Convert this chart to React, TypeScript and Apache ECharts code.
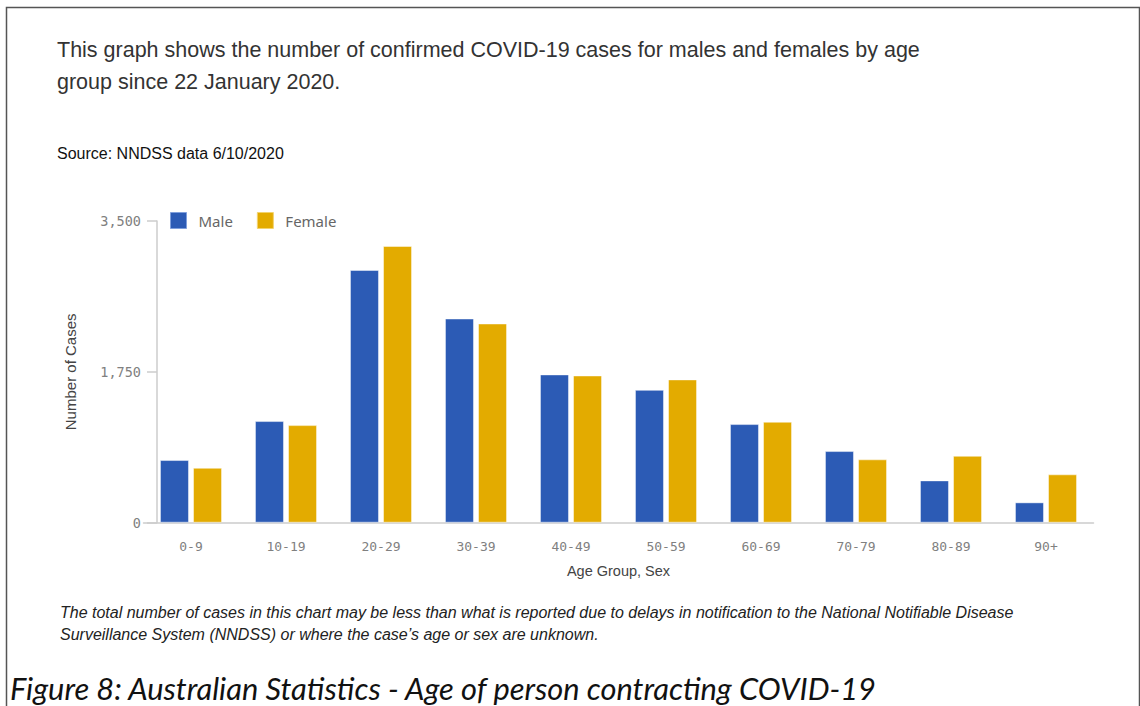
import React, { useEffect, useRef } from "react";
import * as echarts from "echarts";

const categories = ["0-9", "10-19", "20-29", "30-39", "40-49", "50-59", "60-69", "70-79", "80-89", "90+"];
const maleCases = [727, 1179, 2932, 2369, 1720, 1541, 1144, 831, 491, 236];
const femaleCases = [637, 1132, 3210, 2311, 1708, 1662, 1171, 735, 776, 561];
const yTicks = [0, 1750, 3500];

const titleLines = [
  "This graph shows the number of confirmed COVID-19 cases for males and females by age",
  "group since 22 January 2020.",
];
const sourceText = "Source: NNDSS data 6/10/2020";
const noteLines = [
  "The total number of cases in this chart may be less than what is reported due to delays in notification to the National Notifiable Disease",
  "Surveillance System (NNDSS) or where the case\u2019s age or sex are unknown.",
];
const captionText = "Figure 8: Australian Statistics - Age of person contracting COVID-19";

const MALE = "#2c5bb5";
const FEMALE = "#e3ab00";
const SANS = "Liberation Sans, Arial, sans-serif";
const MONO = "DejaVu Sans Mono, monospace";

export default function App() {
  const ref = useRef<HTMLDivElement>(null);
  useEffect(() => {
    if (!ref.current) return;
    const chart = echarts.init(ref.current, null, { renderer: "svg" });
    chart.setOption({
      animation: false,
      backgroundColor: "#ffffff",
      grid: { left: 143.5, right: 46.5, top: 221, bottom: 183.3, containLabel: false },
      legend: {
        left: 170,
        top: 212,
        itemWidth: 16,
        itemHeight: 16,
        itemGap: 24,
        icon: "rect",
        padding: 0,
        textStyle: { color: "#666", fontSize: 15, fontFamily: "Noto Sans, sans-serif", padding: [0, 0, 0, 7] },
        data: [
          { name: "Male", itemStyle: { color: MALE, borderColor: "#7f9fdc", borderWidth: 1 } },
          { name: "Female", itemStyle: { color: FEMALE, borderColor: "#f2d36e", borderWidth: 1 } },
        ],
      },
      xAxis: {
        type: "category",
        data: categories,
        name: "Age Group, Sex",
        nameLocation: "middle",
        nameGap: 41,
        nameTextStyle: { color: "#444", fontSize: 14.5, fontFamily: SANS },
        axisLine: { show: true, lineStyle: { color: "#cccccc", width: 1.5 } },
        axisTick: { show: false },
        axisLabel: { color: "#808080", fontSize: 13, fontFamily: MONO, margin: 17 },
      },
      yAxis: {
        type: "value",
        min: yTicks[0],
        max: yTicks[yTicks.length - 1],
        interval: yTicks[1] - yTicks[0],
        offset: -13.5,
        name: "Number of Cases",
        nameLocation: "middle",
        nameGap: 79,
        nameTextStyle: { color: "#444", fontSize: 15, fontFamily: SANS },
        axisLine: { show: true, lineStyle: { color: "#cccccc", width: 1.5 } },
        axisTick: { show: true, length: 10, lineStyle: { color: "#cccccc", width: 1.5 } },
        splitLine: { show: false },
        axisLabel: {
          color: "#808080",
          fontSize: 13.5,
          fontFamily: MONO,
          margin: 16,
          formatter: (v: number) => v.toLocaleString("en-US"),
        },
      },
      series: [
        {
          name: "Male",
          type: "bar",
          data: maleCases,
          barWidth: 29,
          barGap: "14%",
          itemStyle: { color: MALE, borderColor: "rgba(255,255,255,0.45)", borderWidth: 1 },
        },
        {
          name: "Female",
          type: "bar",
          data: femaleCases,
          barWidth: 29,
          barGap: "14%",
          itemStyle: { color: FEMALE, borderColor: "rgba(255,255,255,0.45)", borderWidth: 1 },
        },
      ],
      graphic: [
        {
          type: "rect",
          shape: { x: 6.5, y: 7.5, width: 1133, height: 720 },
          style: { fill: "none", stroke: "#555", lineWidth: 1.5 },
          silent: true,
        },
        {
          type: "text",
          x: 57,
          y: 50,
          style: { text: titleLines[0], fill: "#333", font: `21.5px ${SANS}`, textVerticalAlign: "middle" },
        },
        {
          type: "text",
          x: 57,
          y: 82,
          style: { text: titleLines[1], fill: "#333", font: `21.5px ${SANS}`, textVerticalAlign: "middle" },
        },
        {
          type: "text",
          x: 57,
          y: 153,
          style: { text: sourceText, fill: "#111", font: `16px ${SANS}`, textVerticalAlign: "middle" },
        },
        {
          type: "text",
          x: 60,
          y: 612,
          style: { text: noteLines[0], fill: "#222", font: `italic 16px ${SANS}`, textVerticalAlign: "middle" },
        },
        {
          type: "text",
          x: 60,
          y: 634,
          style: { text: noteLines[1], fill: "#222", font: `italic 16px ${SANS}`, textVerticalAlign: "middle" },
        },
        {
          type: "text",
          x: 10,
          y: 688,
          style: { text: captionText, fill: "#111", font: `italic 30.8px Lato, Carlito, sans-serif`, textVerticalAlign: "middle" },
        },
      ],
    });
    return () => chart.dispose();
  }, []);
  return (
    <div
      ref={ref}
      style={{ position: "fixed", left: 0, top: 0, width: 1140, height: 706, background: "#fff" }}
    />
  );
}
